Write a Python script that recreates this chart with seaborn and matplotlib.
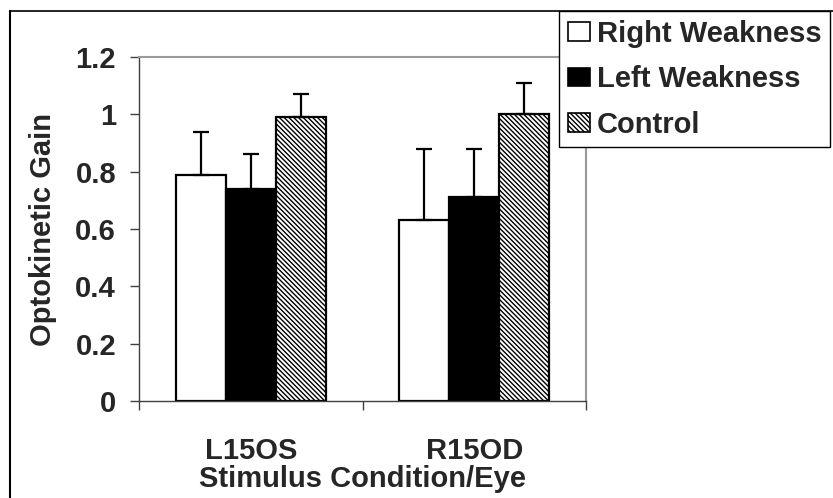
import pandas as pd
import matplotlib
matplotlib.use("Agg")
import matplotlib.pyplot as plt
import matplotlib.patches as mpatches
from matplotlib.lines import Line2D
import seaborn as sns

# data
conditions = ["L15OS", "R15OD"]
groups = ["Right Weakness", "Left Weakness", "Control"]
right_weakness = [0.79, 0.63]
left_weakness = [0.74, 0.71]
control = [0.99, 1.00]
right_err = [0.15, 0.25]
left_err = [0.12, 0.17]
control_err = [0.08, 0.11]

df = pd.DataFrame({
    "condition": conditions * 3,
    "group": [g for g in groups for _ in conditions],
    "gain": right_weakness + left_weakness + control,
})
errs = [right_err, left_err, control_err]

sns.set_style("white")
plt.rcParams["font.family"] = ["Liberation Sans", "DejaVu Sans"]
plt.rcParams["font.weight"] = "bold"
plt.rcParams["hatch.linewidth"] = 1.0
plt.rcParams["hatch.color"] = "black"

fig = plt.figure(figsize=(8.33, 4.98), dpi=100)
ax = fig.add_axes([139 / 833, 1 - 401 / 498, (586 - 139) / 833, (401 - 57) / 498])

palette = {"Right Weakness": "white", "Left Weakness": "black", "Control": "white"}
sns.barplot(data=df, x="condition", y="gain", hue="group", hue_order=groups,
            order=conditions, palette=palette, edgecolor="black", linewidth=1.6,
            width=0.67, errorbar=None, legend=False, ax=ax)

hatch = "\\\\\\\\\\\\\\"
for bar in ax.containers[2]:
    bar.set_hatch(hatch)

# upper error bars only, placed on the seaborn bars
for cont, err in zip(ax.containers, errs):
    xs = [b.get_x() + b.get_width() / 2 for b in cont]
    ys = [b.get_height() for b in cont]
    ax.errorbar(xs, ys, yerr=[[0] * len(err), err], fmt="none", ecolor="black",
                elinewidth=1.6, capsize=5.5, capthick=1.6, zorder=1)

fs = 21
ax.set_ylim(0, 1.2)
ax.set_xlim(-0.5, 1.5)
ax.set_yticks([0, 0.2, 0.4, 0.6, 0.8, 1.0, 1.2])
ax.set_yticklabels(["0", "0.2", "0.4", "0.6", "0.8", "1", "1.2"])
ax.set_xticks([0, 1])
ax.set_xticks([-0.5, 0.5, 1.5], minor=True)
ax.tick_params(axis="x", which="major", length=0, pad=26, labelsize=fs)
ax.tick_params(axis="x", which="minor", length=6.5, width=1, color="#404040",
               direction="out", bottom=True)
ax.tick_params(axis="y", length=6.5, width=1, color="#404040", direction="out",
               left=True, pad=10, labelsize=fs)

ax.set_xlabel("Stimulus Condition/Eye", fontsize=fs, fontweight="bold", labelpad=0)
ax.set_ylabel("Optokinetic Gain", fontsize=fs, fontweight="bold", labelpad=13)

for side in ["left", "bottom"]:
    ax.spines[side].set_color("#404040")
    ax.spines[side].set_linewidth(1.0)
for side in ["top", "right"]:
    ax.spines[side].set_visible(True)
    ax.spines[side].set_color("#9a9a9a")
    ax.spines[side].set_linewidth(1.5)

handles = [
    mpatches.Patch(facecolor="white", edgecolor="black", linewidth=1.2),
    mpatches.Patch(facecolor="black", edgecolor="black", linewidth=1.2),
    mpatches.Patch(facecolor="white", edgecolor="black", linewidth=1.2, hatch=hatch),
]
leg = fig.legend(handles, groups, loc="upper left",
                 bbox_to_anchor=(559 / 833, 1 - 11 / 498),
                 prop={"size": fs, "weight": "bold"},
                 frameon=True, fancybox=False, edgecolor="black", framealpha=1,
                 borderaxespad=0, borderpad=0.3, handlelength=0.75,
                 handleheight=0.62, handletextpad=0.25, labelspacing=0.6)
leg.get_frame().set_linewidth(1.0)

# outer border of the chart area
fig.add_artist(Line2D([10 / 833, 1], [1 - 11 / 498] * 2, color="black", lw=1.2,
                      transform=fig.transFigure))
fig.add_artist(Line2D([10 / 833] * 2, [0, 1 - 11 / 498], color="black", lw=1.5,
                      transform=fig.transFigure))

fig.savefig("out.png", dpi=100)
